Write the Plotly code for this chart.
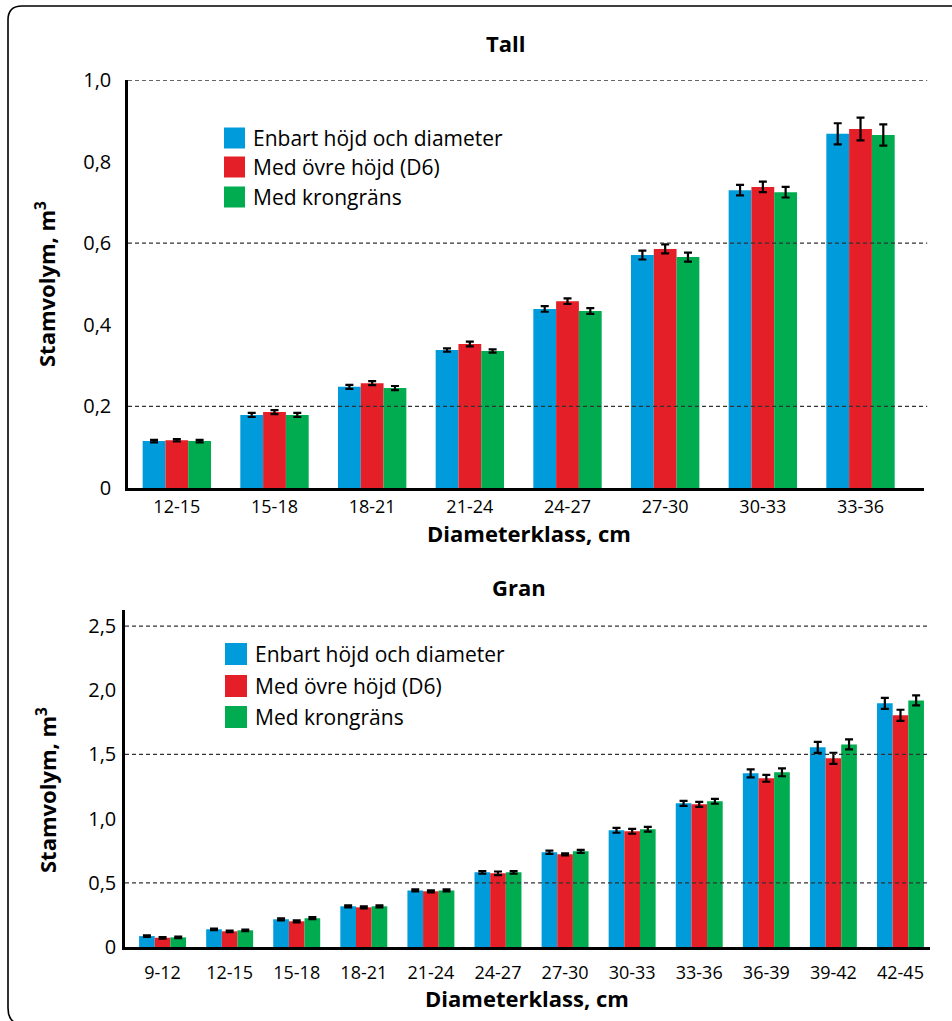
import plotly.graph_objects as go

# --- Data -------------------------------------------------------------
series_names = ["Enbart höjd och diameter", "Med övre höjd (D6)", "Med krongräns"]
series_colors = ["#009BDB", "#E41F27", "#00AC4F"]

tall_classes = ["12-15", "15-18", "18-21", "21-24", "24-27", "27-30", "30-33", "33-36"]
tall_enbart = [0.115, 0.179, 0.248, 0.338, 0.439, 0.571, 0.730, 0.868]
tall_d6 = [0.117, 0.186, 0.257, 0.353, 0.458, 0.586, 0.738, 0.880]
tall_krona = [0.115, 0.179, 0.245, 0.336, 0.434, 0.566, 0.725, 0.865]
tall_enbart_err = [0.003, 0.005, 0.005, 0.004, 0.007, 0.011, 0.013, 0.026]
tall_d6_err = [0.003, 0.005, 0.005, 0.006, 0.007, 0.011, 0.013, 0.028]
tall_krona_err = [0.003, 0.005, 0.005, 0.004, 0.007, 0.011, 0.013, 0.026]

gran_classes = ["9-12", "12-15", "15-18", "18-21", "21-24", "24-27",
                "27-30", "30-33", "33-36", "36-39", "39-42", "42-45"]
gran_enbart = [0.085, 0.138, 0.216, 0.317, 0.441, 0.582, 0.738, 0.909, 1.119, 1.353, 1.555, 1.898]
gran_d6 = [0.072, 0.122, 0.200, 0.309, 0.434, 0.574, 0.722, 0.901, 1.111, 1.314, 1.470, 1.805]
gran_krona = [0.075, 0.130, 0.224, 0.317, 0.441, 0.582, 0.745, 0.917, 1.135, 1.361, 1.578, 1.921]
gran_enbart_err = [0.006, 0.006, 0.008, 0.008, 0.008, 0.010, 0.012, 0.019, 0.019, 0.031, 0.043, 0.043]
gran_d6_err = [0.006, 0.006, 0.008, 0.008, 0.008, 0.014, 0.008, 0.019, 0.019, 0.027, 0.043, 0.043]
gran_krona_err = [0.006, 0.006, 0.008, 0.008, 0.008, 0.010, 0.012, 0.019, 0.019, 0.031, 0.039, 0.039]

tall_yticks = [0, 0.2, 0.4, 0.6, 0.8, 1.0]
tall_yticktext = ["0", "0,2", "0,4", "0,6", "0,8", "1,0"]
tall_grid = [0.2, 0.6, 1.0]

gran_yticks = [0, 0.5, 1.0, 1.5, 2.0, 2.5]
gran_yticktext = ["0", "0,5", "1,0", "1,5", "2,0", "2,5"]
gran_grid = [0.5, 1.5, 2.5]

# --- Layout helpers ---------------------------------------------------
W, H = 952, 1021
FONT = "Open Sans"


def px(x):
    return x / W


def py(y):
    return 1 - y / H


fig = go.Figure()

panels = [
    (tall_classes, [tall_enbart, tall_d6, tall_krona],
     [tall_enbart_err, tall_d6_err, tall_krona_err], "x", "y"),
    (gran_classes, [gran_enbart, gran_d6, gran_krona],
     [gran_enbart_err, gran_d6_err, gran_krona_err], "x2", "y2"),
]

for cats, vals, errs, xa, ya in panels:
    for name, color, v, e in zip(series_names, series_colors, vals, errs):
        fig.add_trace(go.Bar(
            x=cats, y=v, name=name, marker=dict(color=color, line=dict(width=0)),
            error_y=dict(type="data", array=e, color="black", thickness=2.2, width=4),
            xaxis=xa, yaxis=ya, showlegend=False,
        ))

axis_common = dict(showgrid=False, zeroline=False, showline=True,
                   linecolor="black", ticks="outside", automargin=False,
                   tickcolor="rgba(0,0,0,0)", fixedrange=True)
xtick_font = dict(family=FONT, size=18, color="black")
ytick_font = dict(family=FONT, size=20, color="black")

fig.update_layout(
    width=W, height=H, autosize=False,
    margin=dict(l=0, r=0, t=0, b=0, pad=0, autoexpand=False),
    paper_bgcolor="white", plot_bgcolor="white",
    showlegend=False,
    barmode="group", bargap=0.3, bargroupgap=0,
    font=dict(family=FONT, color="black"),
    xaxis=dict(axis_common, type="category", domain=[px(128), px(924)],
               range=[-0.5, 7.65], anchor="y", linewidth=3, ticklen=0,
               tickfont=xtick_font),
    yaxis=dict(axis_common, domain=[py(488), py(80)], range=[0, 1.0],
               anchor="x", linewidth=2.5, tickvals=tall_yticks,
               ticktext=tall_yticktext, ticklen=10, tickfont=ytick_font),
    xaxis2=dict(axis_common, type="category", domain=[px(125), px(930)],
                range=[-0.56, 11.44], anchor="y2", linewidth=3, ticklen=7,
                tickfont=xtick_font),
    yaxis2=dict(axis_common, domain=[py(947), py(610)], range=[0, 2.625],
                anchor="x2", linewidth=2.5, tickvals=gran_yticks,
                ticktext=gran_yticktext, ticklen=2, tickfont=ytick_font),
)

shapes = []
# dashed reference lines over the bars
for g in tall_grid:
    shapes.append(dict(type="line", xref="x domain", yref="y", x0=0, x1=1.004,
                       y0=g, y1=g, layer="above",
                       line=dict(color="#333333", width=1.3, dash="4px,3px")))
for g in gran_grid:
    shapes.append(dict(type="line", xref="x2 domain", yref="y2", x0=0, x1=1.0,
                       y0=g, y1=g, layer="above",
                       line=dict(color="#333333", width=1.3, dash="4px,3px")))

# rounded frame around both panels
r = 14
x0, y0, x1 = 8, 6, 975
frame = (f"M {px(x0)},{py(1008)} L {px(x0)},{py(y0 + r)} "
         f"Q {px(x0)},{py(y0)} {px(x0 + r)},{py(y0)} L {px(x1)},{py(y0)}")
shapes.append(dict(type="path", xref="paper", yref="paper", path=frame,
                   line=dict(color="black", width=1.6)))
bottom_corner = f"M {px(x0)},{py(1008)} Q {px(x0)},{py(1021)} {px(x0 + 10)},{py(1024)}"
shapes.append(dict(type="path", xref="paper", yref="paper", path=bottom_corner,
                   line=dict(color="black", width=1.6)))

annotations = []

# manual legends (larger swatches than the built-in legend)
legend_rows = [
    (224, 245, [138, 167, 197], 251),
    (225, 247, [654, 686, 717], 253),
]
for sx0, sx1, rows, tx in legend_rows:
    for name, color, cy in zip(series_names, series_colors, rows):
        half = (sx1 - sx0) / 2
        shapes.append(dict(type="rect", xref="paper", yref="paper",
                           x0=px(sx0), x1=px(sx1), y0=py(cy + half), y1=py(cy - half),
                           fillcolor=color, line=dict(width=0)))
        annotations.append(dict(x=px(tx), y=py(cy), xref="paper", yref="paper",
                                text=name, showarrow=False, xanchor="left",
                                yanchor="middle",
                                font=dict(family=FONT, size=21, color="black")))

bold = dict(family=FONT, size=22, color="black", weight="bold")
# panel titles
annotations.append(dict(x=px(505), y=py(43), xref="paper", yref="paper", text="Tall",
                        showarrow=False, font=bold, xanchor="center", yanchor="middle"))
annotations.append(dict(x=px(519), y=py(587), xref="paper", yref="paper", text="Gran",
                        showarrow=False, font=bold, xanchor="center", yanchor="middle"))
# x-axis titles
annotations.append(dict(x=px(529), y=py(533), xref="paper", yref="paper",
                        text="Diameterklass, cm", showarrow=False, font=bold,
                        xanchor="center", yanchor="middle"))
annotations.append(dict(x=px(527), y=py(998), xref="paper", yref="paper",
                        text="Diameterklass, cm", showarrow=False, font=bold,
                        xanchor="center", yanchor="middle"))
# y-axis titles
annotations.append(dict(x=px(46), y=py(284), xref="paper", yref="paper",
                        text="Stamvolym, m<sup>3</sup>", showarrow=False, font=bold,
                        textangle=-90, xanchor="center", yanchor="middle"))
annotations.append(dict(x=px(46), y=py(790), xref="paper", yref="paper",
                        text="Stamvolym, m<sup>3</sup>", showarrow=False, font=bold,
                        textangle=-90, xanchor="center", yanchor="middle"))

fig.update_layout(shapes=shapes, annotations=annotations)

fig.write_html("out.html", config={"displayModeBar": False})
